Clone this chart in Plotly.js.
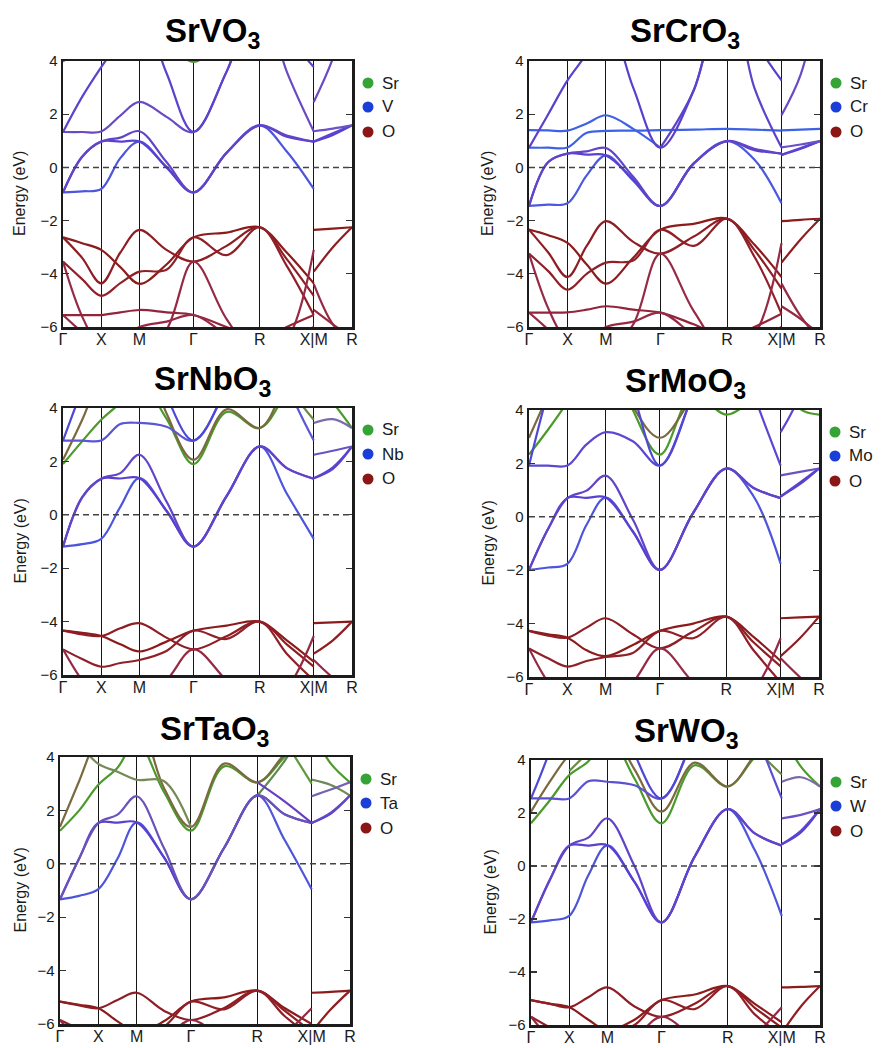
<!DOCTYPE html>
<html>
<head>
<meta charset="utf-8">
<script src="https://cdn.plot.ly/plotly-3.0.1.min.js"></script>
<style>
  html, body { margin: 0; padding: 0; background: #fff; }
  #chart { width: 881px; height: 1048px; }
</style>
</head>
<body>
<div id="chart"></div>
<script>
// k-path Γ–X–M–Γ–R–X | M–R, cumulative distance in units of 2π/a
// main path samples: Γ, ½, X, ½, M, ½, Γ, ½, R, ½, X ; last leg: M, ½, R
const K_MAIN = [0, 0.25, 0.5, 0.75, 1.0, 1.3536, 1.7071, 2.1401, 2.5731, 2.9267, 3.2802];
const K_MR = [3.2802, 3.5302, 3.7802];
const K_TICKS = [0, 0.5, 1.0, 1.7071, 2.5731, 3.2802, 3.7802];
const K_LABELS = ['Γ', 'X', 'M', 'Γ', 'R', 'X|M', 'R'];
const E_RANGE = [-6, 4];
const E_TICKS = [-6, -4, -2, 0, 2, 4];
const N = null;

// ---------- SrVO3 (eV, relative to E_F) ----------
const SRVO3_D = [
  [-0.94, -0.90, -0.81, 0.35, 0.97, 0.00, -0.94, 0.55, 1.58, 0.60, -0.81],
  [-0.94, 0.40, 0.97, 0.97, 0.97, 0.02, -0.94, 0.55, 1.58, 1.15, 0.97],
  [-0.94, 0.40, 0.97, 1.12, 1.36, 0.20, -0.94, 0.55, 1.58, 1.20, 0.97],
  [1.33, 1.33, 1.35, 1.95, 2.46, 1.90, 1.33, 3.60, 6.50, 3.60, 1.35],
  [1.33, 2.65, 3.77, 4.80, 6.00, 3.55, 1.33, 3.60, 6.50, 5.00, 3.77]
];
const SRVO3_D_MR = [[0.97, 1.22, 1.58], [0.97, 1.28, 1.58], [1.36, 1.46, 1.58], [2.46, 4.10, 6.50]];
const SRVO3_SR = [[3.97, 4.80, 5.60, 6.00, 6.50, 4.90, 3.97, 5.00, 6.00, 6.00, 6.00]];
const SRVO3_SR_MR = [];
const SRVO3_O = [
  [-2.63, -2.85, -3.10, -3.75, -4.38, -3.65, -2.63, -2.45, -2.25, -3.20, -4.36],
  [-2.63, -3.40, -4.36, -3.20, -2.35, -3.10, -3.54, -2.95, -2.25, -3.45, -4.83],
  [-3.54, -4.20, -4.83, -4.35, -3.92, -3.85, -2.63, -3.30, -2.25, -3.70, -5.55],
  [-3.54, -5.60, -6.80, -7.00, -7.00, -6.10, -3.54, -5.70, -7.20, -6.50, -3.10],
  [-5.55, -5.55, -5.55, -5.45, -5.36, -5.45, -5.55, -6.00, -6.50, -6.00, -5.55],
  [-5.55, -6.20, -6.80, -6.50, -6.00, -5.80, -5.55, -6.30, -7.00, -6.50, -6.00]
];
const SRVO3_O_MR = [[-2.35, -2.30, -2.25], [-3.92, -3.00, -2.25], [-4.38, -5.90, -6.60], [-5.36, -5.90, -6.40]];

// ---------- SrCrO3 ----------
const SRCRO3_D = [
  [-1.45, -1.40, -1.35, -0.30, 0.45, -0.50, -1.45, 0.15, 0.99, 0.30, -1.35],
  [-1.45, 0.20, 0.52, 0.48, 0.45, -0.45, -1.45, 0.15, 0.99, 0.65, 0.52],
  [-1.45, 0.20, 0.52, 0.60, 0.73, -0.35, -1.45, 0.15, 0.99, 0.70, 0.52],
  [1.40, 1.39, 1.38, 1.65, 1.96, 1.45, 0.74, N, N, N, N],
  [0.74, 0.74, 0.75, 1.30, 1.37, 1.38, 1.40, 1.42, 1.45, 1.42, 1.38],
  [0.74, 2.00, 3.27, 4.30, 5.80, 3.00, 0.74, 2.90, 7.00, 4.80, 3.27],
  [N, N, N, N, N, N, 0.74, 2.90, 7.00, 3.00, 0.75]
];
const SRCRO3_D_MR = [[0.47, 0.70, 0.99], [0.47, 0.73, 0.99], [0.75, 0.86, 0.99], [1.96, 3.50, 6.50], [1.39, 1.42, 1.45]];
const SRCRO3_SR = [];
const SRCRO3_SR_MR = [];
const SRCRO3_O = [
  [-2.34, -2.55, -2.84, -3.65, -4.37, -3.40, -2.34, -2.12, -1.93, -2.90, -4.12],
  [-2.34, -3.20, -4.12, -2.95, -2.02, -2.80, -3.24, -2.60, -1.93, -3.10, -4.56],
  [-3.24, -3.90, -4.60, -4.00, -3.58, -3.50, -2.34, -2.95, -1.93, -3.35, -5.50],
  [-3.24, -5.30, -6.60, -7.00, -7.00, -5.90, -3.24, -5.40, -7.00, -6.30, -2.85],
  [-5.46, -5.46, -5.45, -5.35, -5.22, -5.35, -5.46, -5.90, -6.40, -6.00, -5.50],
  [-5.46, -6.10, -6.80, -6.50, -6.00, -5.80, -5.46, -6.30, -7.00, -6.50, -6.00]
];
const SRCRO3_O_MR = [[-2.02, -1.97, -1.93], [-3.58, -2.70, -1.93], [-4.37, -5.60, -6.50], [-5.22, -5.70, -6.30]];

// ---------- SrNbO3 ----------
const SRNBO3_D = [
  [-1.19, -1.10, -0.90, 0.30, 1.37, 0.15, -1.19, 0.70, 2.56, 0.80, -0.90],
  [-1.19, 0.65, 1.35, 1.36, 1.37, 0.15, -1.19, 0.70, 2.56, 1.75, 1.35],
  [-1.19, 0.65, 1.35, 1.56, 2.25, 0.50, -1.19, 0.70, 2.56, 1.75, 1.35],
  [2.78, 2.78, 2.78, 3.40, 3.44, 3.30, 2.78, 4.80, 8.00, 4.90, 2.78],
  [2.78, 4.70, 6.50, 7.00, 7.00, 4.45, 2.78, 4.80, 8.00, 7.00, 6.50]
];
const SRNBO3_D_MR = [[1.37, 1.72, 2.56], [1.37, 1.78, 2.56], [2.25, 2.40, 2.56], [3.44, 3.58, 3.25]];
const SRNBO3_SR = [
  [1.90, 2.75, 3.56, 4.20, 5.00, 3.60, 1.90, 3.85, 3.25, 4.60, 6.00],
  [2.06, 3.55, 5.20, 6.00, 6.50, 3.80, 2.06, 3.95, 3.25, 5.00, 6.50],
  [N, N, N, N, N, N, N, N, 7.00, 4.90, 3.56]
];
const SRNBO3_SR_MR = [[5.00, 4.20, 3.25]];
const SRNBO3_O = [
  [-4.34, -4.42, -4.54, -4.85, -5.12, -4.75, -4.34, -4.15, -4.00, -4.70, -5.50],
  [-4.34, -4.48, -4.54, -4.25, -4.06, -4.60, -5.04, -4.55, -4.00, -4.85, -5.69],
  [-5.04, -5.40, -5.69, -5.55, -5.44, -5.10, -4.34, -4.65, -4.00, -5.20, -6.20],
  [-5.04, -6.20, -7.00, -7.00, -7.00, -6.20, -5.04, -6.20, -7.20, -6.50, -4.54]
];
const SRNBO3_O_MR = [[-4.06, -4.03, -4.00], [-5.20, -4.70, -4.00], [-5.44, -6.10, -6.60]];

// ---------- SrMoO3 ----------
const SRMOO3_D = [
  [-1.99, -1.90, -1.76, -0.30, 0.72, -0.55, -1.99, 0.15, 1.81, 0.77, -1.76],
  [-1.99, -0.45, 0.70, 0.71, 0.72, -0.55, -1.99, 0.15, 1.81, 1.08, 0.70],
  [-1.99, -0.45, 0.70, 0.98, 1.54, -0.10, -1.99, 0.15, 1.81, 1.08, 0.70],
  [1.92, 1.92, 1.92, 2.71, 3.17, 2.83, 1.92, 4.60, 7.50, 4.60, 1.92],
  [1.92, 4.70, 7.00, 7.50, 7.50, 4.65, 1.92, 4.60, 7.50, 7.00, 6.50]
];
const SRMOO3_D_MR = [[0.76, 1.22, 1.81], [0.76, 1.28, 1.81], [1.55, 1.68, 1.81], [3.17, 4.60, 8.00]];
const SRMOO3_SR = [
  [2.33, 3.27, 4.30, 5.50, 6.50, 4.00, 2.33, 4.60, 3.83, 4.50, 6.00],
  [2.96, 4.55, 6.00, 7.00, 7.00, 4.15, 2.96, 4.55, 6.50, 6.50, 7.00]
];
const SRMOO3_SR_MR = [[5.50, 4.05, 3.83]];
const SRMOO3_O = [
  [-4.27, -4.40, -4.53, -5.00, -5.22, -4.80, -4.27, -4.00, -3.74, -4.50, -5.40],
  [-4.27, -4.45, -4.53, -4.15, -3.80, -4.40, -4.93, -4.30, -3.74, -4.70, -5.60],
  [-4.93, -5.30, -5.61, -5.40, -5.25, -5.10, -4.27, -4.55, -3.74, -5.00, -6.20],
  [-4.93, -6.20, -7.00, -7.00, -7.00, -6.20, -4.93, -6.20, -7.20, -6.50, -4.55]
];
const SRMOO3_O_MR = [[-3.80, -3.77, -3.74], [-5.22, -4.55, -3.74], [-5.30, -6.00, -6.60]];

// ---------- SrTaO3 ----------
const SRTAO3_D = [
  [-1.33, -1.20, -0.95, 0.20, 1.55, 0.25, -1.33, 0.60, 2.56, 0.90, -0.95],
  [-1.33, 0.20, 1.53, 1.54, 1.55, 0.25, -1.33, 0.60, 2.56, 1.86, 1.53],
  [-1.33, 0.20, 1.53, 1.84, 2.53, 0.60, -1.33, 0.60, 2.56, 1.86, 1.53],
  [N, N, N, N, N, N, N, N, 3.05, 2.34, 1.53]
];
const SRTAO3_D_MR = [[1.53, 1.88, 2.56], [1.53, 1.92, 2.56], [2.53, 2.78, 3.05]];
const SRTAO3_SR = [
  [1.24, 2.00, 2.96, 3.60, 4.60, 2.70, 1.24, 3.65, 3.05, 4.00, 5.00],
  [1.38, 3.10, 4.80, 5.50, 5.50, 2.85, 1.38, 3.75, 3.05, 4.10, 5.00],
  [5.50, 4.50, 3.74, 3.45, 3.15, 3.10, 1.38, N, N, N, N],
  [N, N, N, N, N, N, N, N, 2.56, 3.85, 5.50],
  [N, N, N, N, N, N, N, N, 6.00, 4.60, 3.00]
];
const SRTAO3_SR_MR = [[3.15, 2.95, 2.56], [5.00, 3.75, 3.05]];
const SRTAO3_O = [
  [-5.16, -5.28, -5.41, -5.90, -6.30, -5.90, -5.16, -5.00, -4.75, -5.40, -6.00],
  [-5.16, -5.30, -5.41, -5.10, -4.83, -5.50, -5.85, -5.40, -4.75, -5.50, -6.30],
  [-5.85, -6.20, -6.60, -6.50, -6.40, -6.10, -5.16, -5.45, -4.75, -5.70, -6.50],
  [-5.85, -6.60, -7.00, -7.00, -7.00, -6.60, -5.85, -6.60, -7.20, -6.40, -5.41]
];
const SRTAO3_O_MR = [[-4.83, -4.80, -4.75], [-6.30, -5.45, -4.75]];

// ---------- SrWO3 ----------
const SRWO3_D = [
  [-2.13, -2.05, -1.88, -0.35, 0.78, -0.60, -2.13, 0.35, 2.15, 0.60, -1.88],
  [-2.13, -0.50, 0.77, 0.77, 0.78, -0.60, -2.13, 0.35, 2.15, 1.23, 0.77],
  [-2.13, -0.50, 0.77, 1.07, 1.80, 0.00, -2.13, 0.35, 2.15, 1.23, 0.77],
  [2.55, 2.55, 2.55, 3.20, 3.18, 3.05, 2.55, 5.00, 8.50, 5.20, 2.55],
  [2.55, 4.40, 7.00, 7.50, 7.50, 4.25, 2.55, 5.00, 8.50, 7.00, 6.50]
];
const SRWO3_D_MR = [[0.82, 1.27, 2.15], [0.82, 1.33, 2.15], [1.80, 1.93, 2.15], [3.18, 3.35, 3.00]];
const SRWO3_SR = [
  [1.61, 2.49, 3.43, 3.95, 5.00, 3.30, 1.61, 3.80, 3.00, 4.10, 5.00],
  [2.05, 3.20, 4.20, 4.80, 5.20, 3.65, 2.05, 3.90, 3.00, 4.20, 5.50],
  [N, N, 3.58, 4.30, 5.00, N, N, N, 6.00, 4.50, 3.45]
];
const SRWO3_SR_MR = [[5.00, 3.75, 3.00]];
const SRWO3_O = [
  [-5.06, -5.20, -5.33, -5.80, -6.20, -5.80, -5.06, -4.85, -4.53, -5.20, -5.90],
  [-5.06, -5.20, -5.33, -4.95, -4.58, -5.30, -5.69, -5.20, -4.53, -5.35, -6.10],
  [-5.69, -6.10, -6.50, -6.40, -6.30, -6.00, -5.06, -5.40, -4.53, -5.60, -6.40],
  [-5.69, -6.50, -7.00, -7.00, -7.00, -6.50, -5.69, -6.50, -7.20, -6.40, -5.33]
];
const SRWO3_O_MR = [[-4.58, -4.56, -4.53], [-6.30, -5.30, -4.53]];

// ---------- styling ----------
const FONT = 'Liberation Sans, Arial, Helvetica, sans-serif';
const W = 881, H = 1048;
const C_SR = '#35a336', C_B = '#1a3fd8', C_O = '#8b1616';
const D_COL = ['#4c55dc', '#5a40d0', '#6244c9', '#6a4ac4', '#5c42cc'];
const D_MR_COL = ['#5a40d0', '#5a44cf', '#6a52c6', '#6a4ac4'];
const O_COL = ['#8c1b1b', '#8e1e24', '#902028', '#962a45', '#93253a', '#962a45'];
const O_MR_COL = ['#8c1b1b', '#8e1e22', '#962a45', '#962a45'];
const SR_COL = ['#4b9a2c', '#7b6a40', '#6c8b46', '#5f8a50', '#6c8b46'];

const PANELS = [
  { name: 'SrVO<sub>3</sub>', metal: 'V', d: SRVO3_D, dMR: SRVO3_D_MR, sr: SRVO3_SR, srMR: SRVO3_SR_MR, o: SRVO3_O, oMR: SRVO3_O_MR,
    box: [63, 352, 61, 327], tx: 213, ty: 33, ax: 20,
    dCol: D_COL, dMrCol: D_MR_COL, srCol: ['#4b9a2c'], srMrCol: SR_COL },
  { name: 'SrCrO<sub>3</sub>', metal: 'Cr', d: SRCRO3_D, dMR: SRCRO3_D_MR, sr: SRCRO3_SR, srMR: SRCRO3_SR_MR, o: SRCRO3_O, oMR: SRCRO3_O_MR,
    box: [529, 820, 61, 327], tx: 685, ty: 33, ax: 488,
    dCol: ['#4c58de', '#5a40d0', '#6244c9', '#3d62e6', '#3d62e6', '#5a40cc', '#5c44ca'],
    dMrCol: ['#5a40d0', '#5a44cf', '#6a52c6', '#6a4ac4', '#3d62e6'], srCol: SR_COL, srMrCol: SR_COL },
  { name: 'SrNbO<sub>3</sub>', metal: 'Nb', d: SRNBO3_D, dMR: SRNBO3_D_MR, sr: SRNBO3_SR, srMR: SRNBO3_SR_MR, o: SRNBO3_O, oMR: SRNBO3_O_MR,
    box: [63, 352, 408, 675], tx: 213, ty: 381, ax: 20,
    dCol: ['#4c55dc', '#5a40d0', '#6244c9', '#5a56d6', '#4f48d4'],
    dMrCol: ['#5a40d0', '#5a44cf', '#6a52c6', '#7a6aae'], srCol: ['#4b9a2c', '#7b6a40', '#6c8b46'], srMrCol: ['#4b9a2c'] },
  { name: 'SrMoO<sub>3</sub>', metal: 'Mo', d: SRMOO3_D, dMR: SRMOO3_D_MR, sr: SRMOO3_SR, srMR: SRMOO3_SR_MR, o: SRMOO3_O, oMR: SRMOO3_O_MR,
    box: [529, 819, 410, 677], tx: 685, ty: 383, ax: 488,
    dCol: ['#4c55dc', '#5a40d0', '#6244c9', '#5a48d2', '#4f48d4'],
    dMrCol: ['#5a40d0', '#5a44cf', '#6a52c6', '#5a48d2'], srCol: ['#4b9a2c', '#7b6a40'], srMrCol: ['#4b9a2c'] },
  { name: 'SrTaO<sub>3</sub>', metal: 'Ta', d: SRTAO3_D, dMR: SRTAO3_D_MR, sr: SRTAO3_SR, srMR: SRTAO3_SR_MR, o: SRTAO3_O, oMR: SRTAO3_O_MR,
    box: [60, 350, 757, 1024], tx: 215, ty: 731, ax: 20,
    dCol: ['#4c55dc', '#5a40d0', '#6a52b8', '#6a3ec2'],
    dMrCol: ['#5a40d0', '#6446c6', '#7462b2'], srCol: ['#4b9a2c', '#7b6a40', '#768a58', '#5f8a50', '#5f9a3c'], srMrCol: ['#6f8a5a', '#4b9a2c'] },
  { name: 'SrWO<sub>3</sub>', metal: 'W', d: SRWO3_D, dMR: SRWO3_D_MR, sr: SRWO3_SR, srMR: SRWO3_SR_MR, o: SRWO3_O, oMR: SRWO3_O_MR,
    box: [531, 820, 760, 1025], tx: 686, ty: 733, ax: 490,
    dCol: ['#4c55dc', '#5a40d0', '#6244c9', '#5a50d4', '#4f48d4'],
    dMrCol: ['#5a40d0', '#5a44cf', '#6a52c6', '#7a6aa8'], srCol: ['#4b9a2c', '#7b6a40', '#6c8b46'], srMrCol: ['#4b9a2c'] }
];

const traces = [];
const layout = {
  width: W, height: H,
  margin: { l: 0, r: 0, t: 0, b: 0 },
  paper_bgcolor: '#ffffff', plot_bgcolor: '#ffffff',
  showlegend: false,
  font: { family: FONT, color: '#1a1a1a' },
  shapes: [], annotations: []
};

PANELS.forEach((p, i) => {
  const n = i === 0 ? '' : String(i + 1);
  const xa = 'x' + n, ya = 'y' + n;
  const [l, r, t, b] = p.box;

  const addBands = (bands, ks, colors) => bands.forEach((e, j) => traces.push({
    type: 'scatter', mode: 'lines', x: ks, y: e, xaxis: xa, yaxis: ya,
    line: { shape: 'spline', smoothing: 1, width: 2.2, color: colors[j % colors.length] },
    hoverinfo: 'skip'
  }));
  addBands(p.o, K_MAIN, O_COL);
  addBands(p.oMR, K_MR, O_MR_COL);
  addBands(p.sr, K_MAIN, p.srCol);
  addBands(p.srMR, K_MR, p.srMrCol);
  addBands(p.d, K_MAIN, p.dCol);
  addBands(p.dMR, K_MR, p.dMrCol);

  layout['xaxis' + n] = {
    domain: [l / W, r / W], range: [K_TICKS[0], K_TICKS[K_TICKS.length - 1]], anchor: ya,
    tickmode: 'array', tickvals: K_TICKS, ticktext: K_LABELS, ticks: '',
    ticklabelstandoff: -4,
    tickfont: { size: 16, color: '#1a1a1a' },
    showgrid: true, gridcolor: '#161616', gridwidth: 1,
    showline: true, mirror: true, linecolor: '#1c1c1c', linewidth: 2.5,
    zeroline: false, fixedrange: true
  };
  layout['yaxis' + n] = {
    domain: [1 - b / H, 1 - t / H], range: E_RANGE, anchor: xa,
    tickmode: 'array', tickvals: E_TICKS, ticks: 'inside', ticklen: 6, tickwidth: 1.4, tickcolor: '#333',
    tickfont: { size: 15, color: '#1a1a1a' },
    showgrid: false, showline: true, mirror: 'ticks', linecolor: '#1c1c1c', linewidth: 2.5,
    zeroline: false, fixedrange: true
  };

  // Fermi level
  layout.shapes.push({
    type: 'line', xref: xa + ' domain', x0: 0, x1: 1, yref: ya, y0: 0, y1: 0,
    line: { color: '#444', width: 1.5, dash: '6px,4px' }, layer: 'above'
  });

  // compound name
  layout.annotations.push({
    xref: 'paper', yref: 'paper', x: p.tx / W, y: 1 - p.ty / H, xanchor: 'center', yanchor: 'middle',
    text: '<b>' + p.name + '</b>', showarrow: false, font: { size: 33, color: '#000' }
  });
  // energy axis label
  layout.annotations.push({
    xref: 'paper', yref: 'paper', x: p.ax / W, y: 1 - (t + b) / 2 / H, xanchor: 'center', yanchor: 'middle',
    text: 'Energy (eV)', textangle: -90, showarrow: false, font: { size: 16, color: '#1a1a1a' }
  });

  // projection key
  const keys = [['Sr', C_SR], [p.metal, C_B], ['O', C_O]];
  const offs = [22, 46, 71];
  keys.forEach(([label, col], k) => {
    const cx = r + 16, cy = t + offs[k];
    layout.shapes.push({
      type: 'circle', xref: 'paper', yref: 'paper',
      xsizemode: 'pixel', ysizemode: 'pixel', xanchor: cx / W, yanchor: 1 - cy / H,
      x0: -5.5, x1: 5.5, y0: -5.5, y1: 5.5, fillcolor: col, line: { width: 0 }
    });
    layout.annotations.push({
      xref: 'paper', yref: 'paper', x: (cx + 12) / W, y: 1 - cy / H, xanchor: 'left', yanchor: 'middle',
      text: label, showarrow: false, font: { size: 17, color: '#1a1a1a' }
    });
  });
});

Plotly.newPlot('chart', traces, layout, { staticPlot: true, displayModeBar: false });
</script>
</body>
</html>
